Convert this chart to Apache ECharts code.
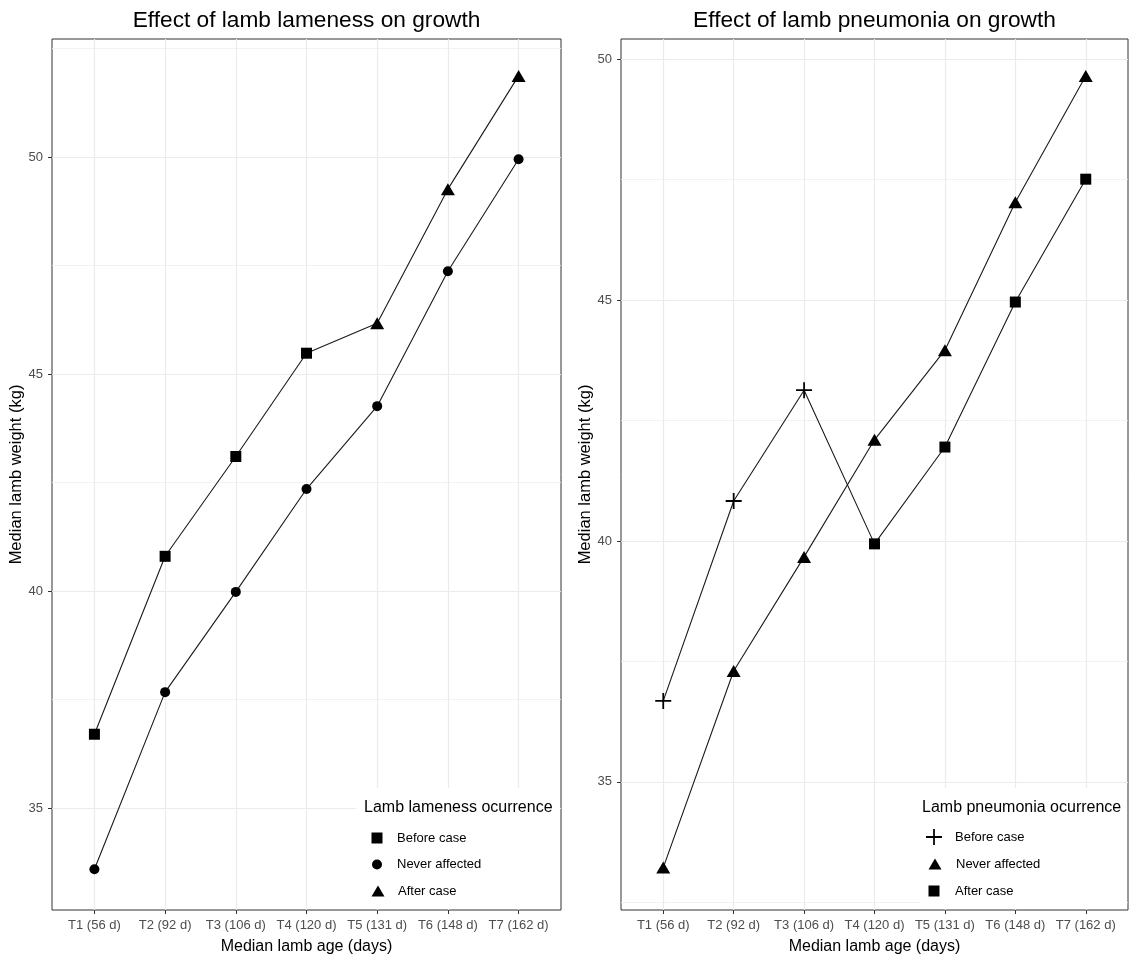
<!DOCTYPE html>
<html><head><meta charset="utf-8">
<script src="https://cdn.jsdelivr.net/npm/echarts@6/dist/echarts.min.js"></script>
<style>html,body{margin:0;padding:0;background:#fff}#c{width:1130px;height:961px}</style>
</head><body><div id="c"></div><script>
const categories = ['T1 (56 d)','T2 (92 d)','T3 (106 d)','T4 (120 d)','T5 (131 d)','T6 (148 d)','T7 (162 d)'];
const yTickLabels = [35, 40, 45, 50];
const yMinorLeft = [37.5, 42.5, 47.5, 52.5];
const yMinorRight = [32.5, 37.5, 42.5, 47.5];
const legendNames = ['Before case', 'Never affected', 'After case'];
// Lameness panel
const lamenessBefore = [36.70, 40.80, 43.10, 45.48, null, null, null];
const lamenessAfter  = [null, null, null, null, 46.17, 49.26, 51.87];
const lamenessNever  = [33.59, 37.67, 39.98, 42.35, 44.26, 47.37, 49.95];
// Pneumonia panel
const pneumoniaBefore = [36.68, 40.83, 43.13, null, null, null, null];
const pneumoniaAfter  = [null, null, null, 39.94, 41.95, 44.96, 47.51];
const pneumoniaNever  = [33.22, 37.30, 39.67, 42.10, 43.96, 47.03, 49.65];

const FONT = 'Liberation Sans, Arial, sans-serif';
const xPos = categories.map((c, i) => i + 1);
const pts = vals => vals.map((v, i) => [i + 1, v]).filter(p => p[1] != null);
const merged = (a, b) => a.map((v, i) => [i + 1, v != null ? v : b[i]]);
const PLUS = 'path://M4.45,0H5.55V4.45H10V5.55H5.55V10H4.45V5.55H0V4.45H4.45Z';
const SQ = 'path://M0,0H10V10H0Z';
const TRI = 'path://M6.5,0L13,11H0Z';
const CIRC = 'circle';

const grids = [
  {left: 52, top: 39, width: 509, height: 871},
  {left: 621, top: 39, width: 507, height: 871}
];
const yRanges = [[32.65, 52.72], [32.34, 50.42]];
const minors = [yMinorLeft, yMinorRight];

const xAxes = grids.map((g, i) => ({
  gridIndex: i, type: 'value', min: 0.4, max: 7.6,
  axisLine: {show: false},
  axisTick: {show: true, customValues: xPos, length: 4, lineStyle: {color: '#333'}},
  axisLabel: {customValues: xPos, formatter: v => categories[Math.round(v) - 1], color: '#4d4d4d', fontSize: 13, fontFamily: FONT, margin: 9},
  splitLine: {show: true, lineStyle: {color: '#ebebeb', width: 1.2}},
  name: 'Median lamb age (days)', nameLocation: 'middle', nameGap: 29,
  nameTextStyle: {color: '#000', fontSize: 16, fontFamily: FONT}
}));
const yAxes = [];
grids.forEach((g, i) => {
  yAxes.push({
    gridIndex: i, type: 'value', min: yRanges[i][0], max: yRanges[i][1],
    axisLine: {show: false},
    axisTick: {show: true, customValues: yTickLabels, length: 4, lineStyle: {color: '#333'}},
    axisLabel: {customValues: yTickLabels, color: '#4d4d4d', fontSize: 13, fontFamily: FONT, margin: 9},
    splitLine: {show: true, lineStyle: {color: '#ebebeb', width: 1.2}},
    name: 'Median lamb weight (kg)', nameLocation: 'middle', nameGap: 25, nameRotate: 90,
    nameTextStyle: {color: '#000', fontSize: 16.5, fontFamily: FONT}
  });
  yAxes.push({
    gridIndex: i, type: 'value', min: yRanges[i][0], max: yRanges[i][1],
    axisLine: {show: false},
    axisTick: {show: false, customValues: minors[i]},
    axisLabel: {show: false},
    splitLine: {show: true, lineStyle: {color: '#efefef', width: 0.8}}
  });
});

function panelSeries(p, before, after, never, shapes) {
  const base = {xAxisIndex: p, yAxisIndex: 2 * p, animation: false};
  return [
    Object.assign({}, base, {type: 'line', name: 'path' + p, data: merged(before, after), symbol: 'none',
      lineStyle: {color: '#1a1a1a', width: 1.1}, silent: true, z: 2}),
    Object.assign({}, base, {type: 'line', name: 'Never affected', data: pts(never),
      symbol: shapes.never[0], symbolSize: shapes.never[1], showAllSymbol: true,
      itemStyle: {color: '#000'}, lineStyle: {color: '#1a1a1a', width: 1.1}, z: 3}),
    Object.assign({}, base, {type: 'scatter', name: 'Before case', data: pts(before),
      symbol: shapes.before[0], symbolSize: shapes.before[1], itemStyle: {color: '#000', opacity: 1}, z: 4}),
    Object.assign({}, base, {type: 'scatter', name: 'After case', data: pts(after),
      symbol: shapes.after[0], symbolSize: shapes.after[1], itemStyle: {color: '#000', opacity: 1}, z: 4})
  ];
}

const series = [].concat(
  panelSeries(0, lamenessBefore, lamenessAfter, lamenessNever,
    {before: ['rect', 11], never: ['circle', 10], after: ['triangle', [14, 12]]}),
  panelSeries(1, pneumoniaBefore, pneumoniaAfter, pneumoniaNever,
    {before: [PLUS, 16], never: ['triangle', [14, 12]], after: ['rect', 11]})
);

// one legend per item so each icon gets its own size; cx = icon centre
function legendItem(name, icon, size, cx, cy, w) {
  return {
    orient: 'vertical', itemWidth: w, itemHeight: size, padding: 0,
    left: cx - size / 2, top: cy - size / 2, symbolKeepAspect: true,
    textStyle: {fontSize: 13, color: '#000', fontFamily: FONT},
    selectedMode: false, z: 10,
    data: [{name: name, icon: icon}]
  };
}
const legendRows = [837, 863, 890];
const legends = [
  legendItem(legendNames[0], SQ, 11, 377, legendRows[0], 30),
  legendItem(legendNames[1], CIRC, 10, 377, legendRows[1], 30),
  legendItem(legendNames[2], TRI, 11, 377, legendRows[2], 30),
  legendItem(legendNames[0], PLUS, 16, 934, legendRows[0], 32),
  legendItem(legendNames[1], TRI, 11, 934, legendRows[1], 32),
  legendItem(legendNames[2], SQ, 11, 934, legendRows[2], 32)
];

const graphic = [
  {type: 'rect', shape: {x: 356, y: 788, width: 204, height: 121}, style: {fill: '#fff'}, z: 5, silent: true},
  {type: 'rect', shape: {x: 921, y: 788, width: 206, height: 121}, style: {fill: '#fff'}, z: 5, silent: true},
  {type: 'text', x: 306.5, y: 21, z: 6, style: {text: 'Effect of lamb lameness on growth', fill: '#000',
    font: '22.7px ' + FONT, align: 'center', verticalAlign: 'middle'}},
  {type: 'text', x: 874.5, y: 21, z: 6, style: {text: 'Effect of lamb pneumonia on growth', fill: '#000',
    font: '22.7px ' + FONT, align: 'center', verticalAlign: 'middle'}},
  {type: 'text', x: 364, y: 808, z: 6, style: {text: 'Lamb lameness ocurrence', fill: '#000',
    font: '16px ' + FONT, align: 'left', verticalAlign: 'middle'}},
  {type: 'text', x: 922, y: 808, z: 6, style: {text: 'Lamb pneumonia ocurrence', fill: '#000',
    font: '16px ' + FONT, align: 'left', verticalAlign: 'middle'}}
];

const chart = echarts.init(document.getElementById('c'), null, {renderer: 'canvas'});
chart.setOption({
  animation: false,
  backgroundColor: '#fff',
  grid: grids.map(g => Object.assign({show: true, borderColor: '#333', borderWidth: 1, backgroundColor: 'transparent'}, g)),
  xAxis: xAxes,
  yAxis: yAxes,
  legend: legends,
  graphic: graphic,
  series: series
});
</script></body></html>
